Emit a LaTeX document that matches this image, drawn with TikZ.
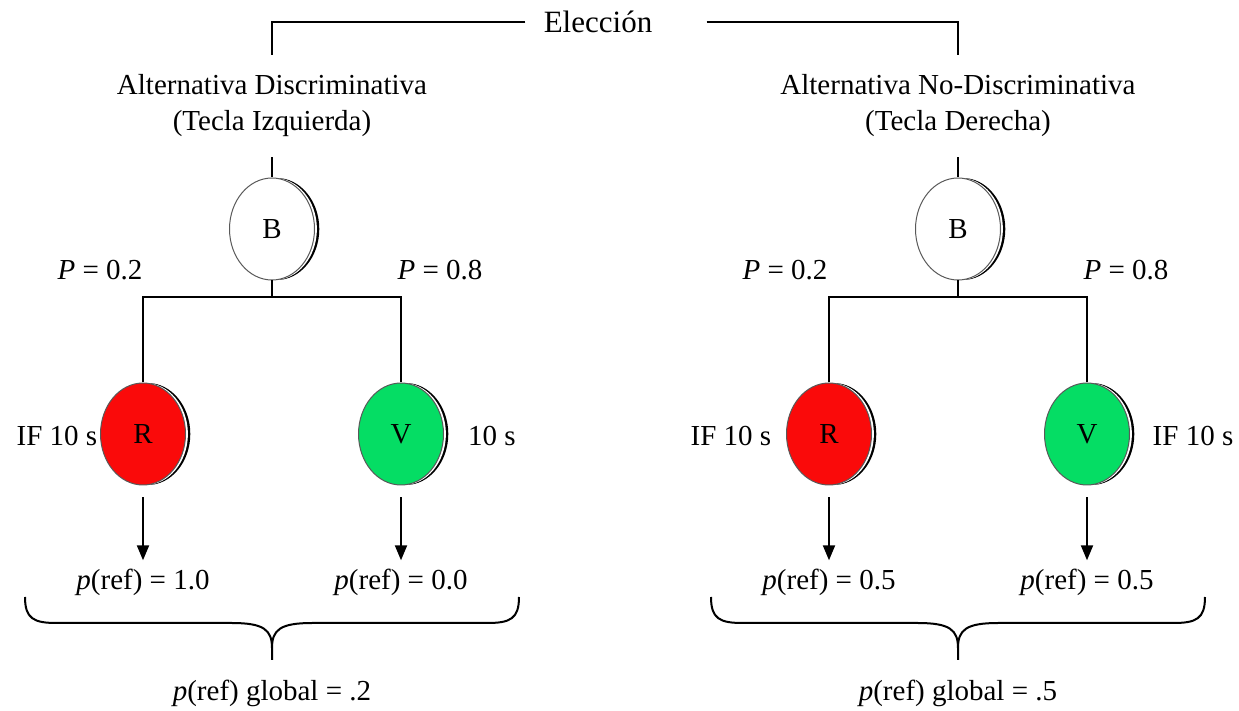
\documentclass[tikz,border=0pt]{standalone}
\usepackage{fontspec}
\setmainfont{Liberation Serif}
\usetikzlibrary{shapes.geometric,shadows,arrows.meta}
\definecolor{rojo}{RGB}{250,10,10}
\definecolor{verde}{RGB}{5,221,100}
\tikzset{
  disco/.style={ellipse, minimum width=42.5pt, minimum height=51pt, inner sep=0pt,
    draw=black!65, line width=0.5pt,
    general shadow={shadow xshift=2.4pt, fill=black},
    general shadow={shadow xshift=1.2pt, fill=white}},
  titulo/.style={align=center, inner sep=0pt, outer ysep=10pt},
  rama/.style={line width=1pt},
  flecha/.style={line width=1pt, shorten <=6pt, -{Triangle[width=6pt,length=7.5pt]}},
  valor/.style={inner sep=4pt}
}

\begin{document}
\begin{tikzpicture}[x=0.5pt,y=-0.5pt,font=\fontsize{14.5}{18}\selectfont]
  \useasboundingbox (0,0) rectangle (1239,711);
  % encabezado
  \node[inner xsep=9pt, font=\fontsize{15.5}{18}\selectfont] (elec) at (598,22) {Elección};
  \node[titulo] (alt1) at (272,106) {Alternativa Discriminativa\\(Tecla Izquierda)};
  \node[titulo] (alt2) at (958,106) {Alternativa No-Discriminativa\\(Tecla Derecha)};
  \draw[rama] (elec.west) -| (alt1.north);
  \draw[rama] ([xshift=18pt]elec.east) -| (alt2.north);

  % discos
  \node[disco, fill=white] (B1) at (272,229) {B};
  \node[disco, fill=rojo] (R1) at (143,434) {R};
  \node[disco, fill=verde] (V1) at (401,434) {V};
  \node[disco, fill=white] (B2) at (958,229) {B};
  \node[disco, fill=rojo] (R2) at (829,434) {R};
  \node[disco, fill=verde] (V2) at (1087,434) {V};
  \coordinate (j1) at (272,297);
  \coordinate (j2) at (958,297);

  \draw[rama] (alt1.south) -- (B1.north);
  \draw[rama] (B1.south) -- (j1);
  \draw[rama] (R1.north) |- (j1) -| (V1.north);
  \draw[rama] (alt2.south) -- (B2.north);
  \draw[rama] (B2.south) -- (j2);
  \draw[rama] (R2.north) |- (j2) -| (V2.north);

  \node (P1) at (100,270) {\textit{P} = 0.2};
  \node (P2) at (440,270) {\textit{P} = 0.8};
  \node (P3) at (785,270) {\textit{P} = 0.2};
  \node (P4) at (1126,270) {\textit{P} = 0.8};

  \node (if1) at (57,436) {IF 10 s};
  \node (t1) at (492,436) {10 s};
  \node (if2) at (731,436) {IF 10 s};
  \node (if3) at (1193,436) {IF 10 s};

  % resultados
  \node[valor] (pr1) at (143,582) {\textit{p}(ref) = 1.0};
  \node[valor] (pv1) at (401,582) {\textit{p}(ref) = 0.0};
  \node[valor] (pr2) at (829,582) {\textit{p}(ref) = 0.5};
  \node[valor] (pv2) at (1087,582) {\textit{p}(ref) = 0.5};
  \draw[flecha] (R1.south) -- (R1.south |- pr1.north);
  \draw[flecha] (V1.south) -- (V1.south |- pv1.north);
  \draw[flecha] (R2.south) -- (R2.south |- pr2.north);
  \draw[flecha] (V2.south) -- (V2.south |- pv2.north);

  % llaves
  \foreach \cx in {272,958}
    \draw[line width=1pt] ({\cx-247},597) .. controls ({\cx-247},619) and ({\cx-238},623) .. ({\cx-215},623)
      -- ({\cx-40},623) .. controls ({\cx-8},623) and (\cx,630) .. (\cx,648) -- (\cx,660)
      (\cx,648) .. controls (\cx,630) and ({\cx+8},623) .. ({\cx+40},623)
      -- ({\cx+215},623) .. controls ({\cx+238},623) and ({\cx+247},619) .. ({\cx+247},597);

  \node (gl1) at (272,693) {\textit{p}(ref) global = .2};
  \node (gl2) at (958,693) {\textit{p}(ref) global = .5};
\end{tikzpicture}
\end{document}
